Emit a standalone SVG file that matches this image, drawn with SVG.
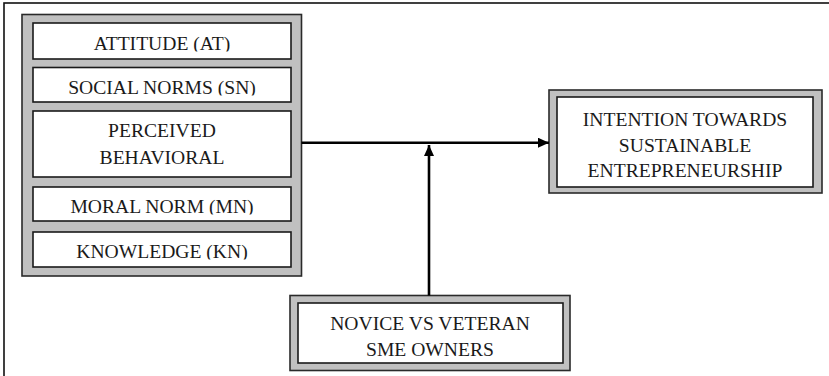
<svg xmlns="http://www.w3.org/2000/svg" width="829" height="376" viewBox="0 0 829 376">
<style>
.frame{fill:#fff;stroke:#111;stroke-width:1.6}
.outer{fill:#c0c0c0;stroke:#2a2a2a;stroke-width:1.6}
.inner{fill:#fff;stroke:#1a1a1a;stroke-width:1.6}
.t{font-family:"Liberation Serif","Times New Roman",serif;font-size:19.6px;fill:#1a1a1a;text-anchor:middle}
.conn{stroke:#000;stroke-width:2.6;fill:none}
</style>
<defs>
<marker id="ah" markerWidth="12" markerHeight="10" refX="11" refY="5" orient="auto" markerUnits="userSpaceOnUse">
<path d="M0,0 L11,5 L0,10 Z" fill="#000"/>
</marker>
<clipPath id="c1"><rect x="33" y="23" width="258" height="28.5"/></clipPath>
<clipPath id="c2"><rect x="33" y="67" width="258" height="28.5"/></clipPath>
<clipPath id="c4"><rect x="33" y="187" width="258" height="27.5"/></clipPath>
<clipPath id="c5"><rect x="33" y="232" width="258" height="27.5"/></clipPath>
</defs>
<rect class="frame" x="4" y="3" width="840" height="390"/>
<g id="predictors">
<rect class="outer" x="22" y="14.5" width="279.5" height="261.5"/>
<g id="attitude">
<rect class="inner" x="33" y="23" width="258" height="36"/>
<text class="t" x="162" y="50" clip-path="url(#c1)">ATTITUDE (AT)</text>
</g>
<g id="social-norms">
<rect class="inner" x="33" y="67.5" width="258" height="34.5"/>
<text class="t" x="162" y="94" clip-path="url(#c2)">SOCIAL NORMS (SN)</text>
</g>
<g id="perceived-behavioral">
<rect class="inner" x="33" y="111" width="258" height="66"/>
<text class="t" x="162" y="137">PERCEIVED</text>
<text class="t" x="162" y="164">BEHAVIORAL</text>
</g>
<g id="moral-norm">
<rect class="inner" x="33" y="187" width="258" height="34"/>
<text class="t" x="162" y="213" clip-path="url(#c4)">MORAL NORM (MN)</text>
</g>
<g id="knowledge">
<rect class="inner" x="33" y="232" width="258" height="35"/>
<text class="t" x="162" y="258" clip-path="url(#c5)">KNOWLEDGE (KN)</text>
</g>
</g>
<g id="intention">
<rect class="outer" x="549" y="90" width="273" height="103"/>
<rect class="inner" x="557" y="97" width="256" height="90"/>
<text class="t" x="685" y="126">INTENTION TOWARDS</text>
<text class="t" x="685" y="152">SUSTAINABLE</text>
<text class="t" x="685" y="177">ENTREPRENEURSHIP</text>
</g>
<g id="moderator">
<rect class="outer" x="290" y="295.5" width="280" height="75"/>
<rect class="inner" x="298" y="303" width="265" height="60"/>
<text class="t" x="430" y="330">NOVICE VS VETERAN</text>
<text class="t" x="430" y="356">SME OWNERS</text>
</g>
<g id="connectors">
<line class="conn" x1="301.5" y1="142.7" x2="549" y2="142.7" marker-end="url(#ah)"/>
<line class="conn" x1="429" y1="295.5" x2="429" y2="145" marker-end="url(#ah)"/>
</g>
</svg>
